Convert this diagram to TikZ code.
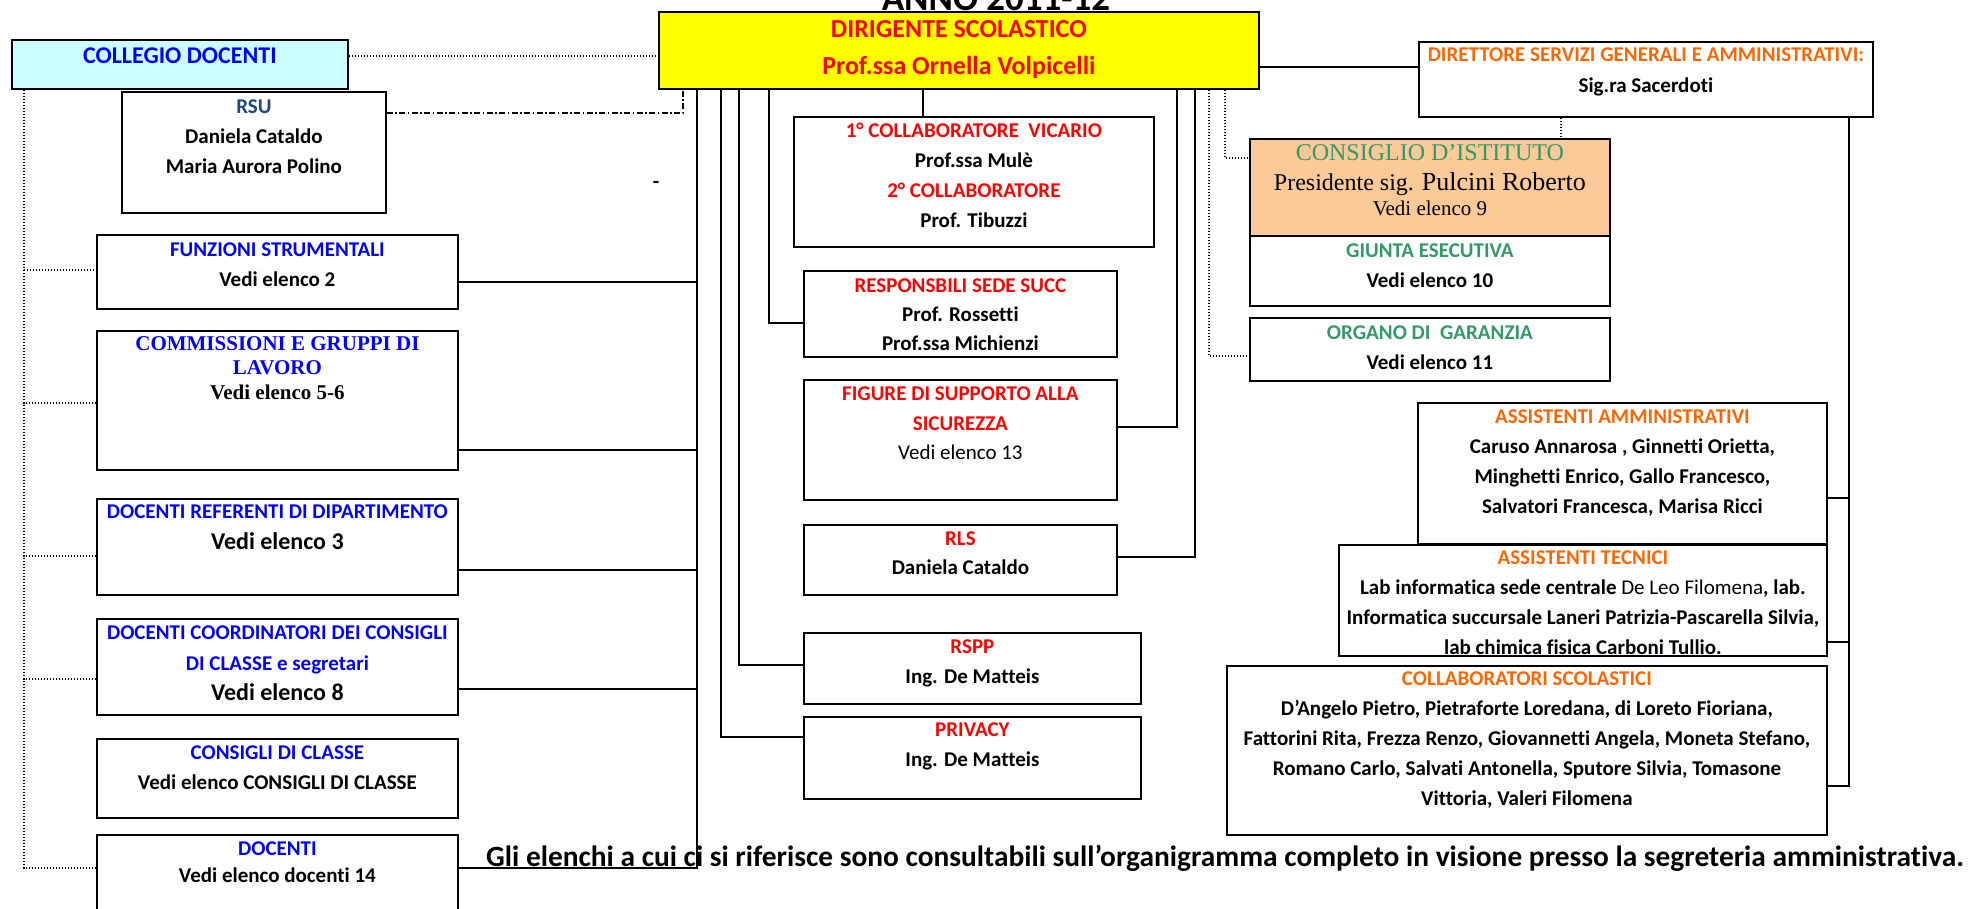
\documentclass[tikz,border=0pt]{standalone}
\usepackage{fontspec}
\setmainfont{Carlito}[Ligatures={NoCommon}]
\newfontfamily\tnr{Liberation Serif}
\definecolor{rosso}{RGB}{255,0,0}
\definecolor{blu}{RGB}{0,0,255}
\definecolor{arancio}{RGB}{255,102,0}
\definecolor{verde}{RGB}{51,153,102}
\definecolor{rsublu}{RGB}{31,73,125}
\definecolor{giallo}{RGB}{255,255,0}
\definecolor{ciano}{RGB}{204,255,255}
\definecolor{pesca}{RGB}{252,201,153}

\begin{document}
\begin{tikzpicture}[
  x=1pt, y=-1pt,
  box/.style={draw, line width=1.8pt, inner sep=0pt, anchor=north west},
  txt/.style={inner sep=0pt, align=center, anchor=north, font=\fontsize{21}{30}\selectfont\bfseries},
  conn/.style={line width=1.8pt},
  dotline/.style={line width=1.4pt, dash pattern=on 1.4pt off 1.6pt},
  dashdot/.style={line width=1.4pt, dash pattern=on 6pt off 2.5pt on 1.5pt off 2.5pt}
  ]
\useasboundingbox (0,0) rectangle (1973,908);

% boxes
\node[box, fill=ciano, minimum width=336pt, minimum height=49pt] (coll) at (11,39) {};
\node[box, fill=giallo, minimum width=600pt, minimum height=77pt] (ds) at (658,11) {};
\node[box, minimum width=454pt, minimum height=75pt] (dsga) at (1418,41) {};
\node[box, minimum width=264pt, minimum height=121pt] (rsu) at (121,91) {};
\node[box, minimum width=360pt, minimum height=130pt] (collab) at (793,116) {};
\node[box, fill=pesca, minimum width=360pt, minimum height=97pt] (cdi) at (1249,138) {};
\node[box, minimum width=360pt, minimum height=70pt] (giunta) at (1249,235) {};
\node[box, minimum width=360pt, minimum height=63pt] (og) at (1249,317) {};
\node[box, minimum width=361pt, minimum height=74pt] (fs) at (96,234) {};
\node[box, minimum width=361pt, minimum height=139pt] (comm) at (96,330) {};
\node[box, minimum width=361pt, minimum height=96pt] (dref) at (96,498) {};
\node[box, minimum width=361pt, minimum height=96pt] (dcoord) at (96,618) {};
\node[box, minimum width=361pt, minimum height=79pt] (cdc) at (96,738) {};
\node[box, minimum width=361pt, minimum height=80pt] (doc) at (96,834) {};
\node[box, minimum width=313pt, minimum height=86pt] (rss) at (803,270) {};
\node[box, minimum width=313pt, minimum height=120pt] (fig) at (803,379) {};
\node[box, minimum width=313pt, minimum height=70pt] (rls) at (803,524) {};
\node[box, minimum width=337pt, minimum height=71pt] (rspp) at (803,632) {};
\node[box, minimum width=337pt, minimum height=82pt] (priv) at (803,716) {};
\node[box, minimum width=409pt, minimum height=141pt] (aa) at (1417,402) {};
\node[box, minimum width=488pt, minimum height=111pt] (at) at (1338,544) {};
\node[box, minimum width=600pt, minimum height=169pt] (cs) at (1226,665) {};

% bus columns
\coordinate (xz) at (24,0);
\coordinate (xk) at (683,0);
\coordinate (xl) at (697,0);
\coordinate (xa) at (721,0);
\coordinate (xb) at (739,0);
\coordinate (xc) at (769,0);
\coordinate (xd) at (923,0);
\coordinate (xe) at (1177,0);
\coordinate (xf) at (1195,0);
\coordinate (xg) at (1209,0);
\coordinate (xh) at (1225,0);
\coordinate (xi) at (1561,0);
\coordinate (xr) at (1849,0);

% connectors
\draw[conn] ([yshift=-56pt]ds.north east) -- ([yshift=-26pt]dsga.north west);
\draw[conn] (ds.south -| xl) |- ([yshift=-48pt]fs.north east);
\draw[conn] (ds.south -| xl) |- ([yshift=-120pt]comm.north east);
\draw[conn] (ds.south -| xl) |- ([yshift=-72pt]dref.north east);
\draw[conn] (ds.south -| xl) |- ([yshift=-71pt]dcoord.north east);
\draw[conn] (ds.south -| xl) |- ([yshift=-34pt]doc.north east);
\draw[conn] (ds.south -| xa) |- ([yshift=-21pt]priv.north west);
\draw[conn] (ds.south -| xb) |- ([yshift=-33pt]rspp.north west);
\draw[conn] (ds.south -| xc) |- ([yshift=-53pt]rss.north west);
\draw[conn] (ds.south -| xd) -- (collab.north -| xd);
\draw[conn] (ds.south -| xe) |- ([yshift=-48pt]fig.north east);
\draw[conn] (ds.south -| xf) |- ([yshift=-33pt]rls.north east);
\draw[conn] (dsga.south -| xr) |- ([yshift=-96pt]aa.north east);
\draw[conn] (dsga.south -| xr) |- ([yshift=-98pt]at.north east);
\draw[conn] (dsga.south -| xr) |- ([yshift=-121pt]cs.north east);

\draw[dotline] ([yshift=-17pt]coll.north east) -- ([yshift=-45pt]ds.north west);
\draw[dotline] (coll.south -| xz) |- ([yshift=-36pt]fs.north west);
\draw[dotline] (coll.south -| xz) |- ([yshift=-73pt]comm.north west);
\draw[dotline] (coll.south -| xz) |- ([yshift=-58pt]dref.north west);
\draw[dotline] (coll.south -| xz) |- ([yshift=-61pt]dcoord.north west);
\draw[dotline] (coll.south -| xz) |- ([yshift=-34pt]doc.north west);
\draw[dotline] (ds.south -| xg) |- ([yshift=-39pt]og.north west);
\draw[dotline] (ds.south -| xh) |- ([yshift=-20pt]cdi.north west);
\draw[dotline] (dsga.south -| xi) -- (cdi.north -| xi);
\draw[dashdot] ([yshift=-22pt]rsu.north east) -| (ds.south -| xk);

% texts
\node[txt, text=blu, font=\fontsize{24}{30}\selectfont\bfseries] (coll-t) at ([yshift=-3.7pt]coll.north) {\strut COLLEGIO DOCENTI};
\node[txt, text=rosso, font=\fontsize{26}{37}\selectfont\bfseries] (ds-t) at (ds.north) {\strut DIRIGENTE SCOLASTICO\\Prof.ssa Ornella Volpicelli};
\node[txt, font=\fontsize{21}{31}\selectfont\bfseries] (dsga-t) at ([yshift=1pt]dsga.north) {\strut\textcolor{arancio}{DIRETTORE SERVIZI GENERALI E AMMINISTRATIVI:}\\Sig.ra Sacerdoti};
\node[txt] (rsu-t) at ([yshift=-0.8pt]rsu.north) {\strut\textcolor{rsublu}{RSU}\\Daniela Cataldo\\Maria Aurora Polino};
\node[txt] (collab-t) at (collab.north) {\strut\textcolor{rosso}{1° COLLABORATORE\ \ VICARIO}\\Prof.ssa Mulè\\\textcolor{rosso}{2° COLLABORATORE}\\Prof. Tibuzzi};
\node[anchor=base, inner sep=0pt, text=verde, font=\tnr\fontsize{24}{28}\selectfont] (cdi-t) at ([yshift=-22pt]cdi.north) {CONSIGLIO D’ISTITUTO};
\node[anchor=base, inner sep=0pt, font=\tnr\fontsize{24}{28}\selectfont] (cdi-p) at ([yshift=-52pt]cdi.north) {Presidente sig. {\fontsize{26}{28}\selectfont Pulcini Roberto}};
\node[anchor=base, inner sep=0pt, font=\tnr\fontsize{21}{28}\selectfont] (cdi-v) at ([yshift=-77pt]cdi.north) {Vedi elenco 9};
\node[txt] (giunta-t) at ([yshift=-0.8pt]giunta.north) {\strut\textcolor{verde}{GIUNTA ESECUTIVA}\\Vedi elenco 10};
\node[txt] (og-t) at ([yshift=-0.8pt]og.north) {\strut\textcolor{verde}{ORGANO DI\ \ GARANZIA}\\Vedi elenco 11};
\node[txt] (fs-t) at ([yshift=-0.8pt]fs.north) {\strut\textcolor{blu}{FUNZIONI STRUMENTALI}\\Vedi elenco 2};
\node[txt, font=\tnr\fontsize{21}{24.5}\selectfont\bfseries] (comm-t) at ([yshift=-2.8pt]comm.north) {\strut\textcolor{blu}{COMMISSIONI E GRUPPI DI}\\\textcolor{blu}{LAVORO}\\Vedi elenco 5-6};
\node[txt, font=\fontsize{21}{31}\selectfont\bfseries] (dref-t) at ([yshift=1pt]dref.north) {\strut\textcolor{blu}{DOCENTI REFERENTI DI DIPARTIMENTO}\\{\fontsize{24}{31}\selectfont Vedi elenco 3}};
\node[txt, font=\fontsize{21}{30.5}\selectfont\bfseries] (dcoord-t) at (dcoord.north) {\strut\textcolor{blu}{DOCENTI COORDINATORI DEI CONSIGLI}\\\textcolor{blu}{DI CLASSE e segretari}\\{\fontsize{24}{30.5}\selectfont Vedi elenco 8}};
\node[txt] (cdc-t) at (cdc.north) {\strut\textcolor{blu}{CONSIGLI DI CLASSE}\\Vedi elenco CONSIGLI DI CLASSE};
\node[txt, font=\fontsize{21}{27}\selectfont\bfseries] (doc-t) at ([yshift=-2pt]doc.north) {\strut\textcolor{blu}{DOCENTI}\\Vedi elenco docenti 14};
\node[txt, font=\fontsize{21}{29}\selectfont\bfseries] (rss-t) at ([yshift=-1.5pt]rss.north) {\strut\textcolor{rosso}{RESPONSBILI SEDE SUCC}\\Prof. Rossetti\\Prof.ssa Michienzi};
\node[txt, font=\fontsize{21}{29.5}\selectfont\bfseries] (fig-t) at ([yshift=-1pt]fig.north) {\strut\textcolor{rosso}{FIGURE DI SUPPORTO ALLA}\\\textcolor{rosso}{SICUREZZA}\\{\mdseries Vedi elenco 13}};
\node[txt, font=\fontsize{21}{29}\selectfont\bfseries] (rls-t) at ([yshift=-0.5pt]rls.north) {\strut\textcolor{rosso}{RLS}\\Daniela Cataldo};
\node[txt] (rspp-t) at (rspp.north) {\strut\textcolor{rosso}{RSPP}\\Ing. De Matteis};
\node[txt] (priv-t) at ([yshift=1pt]priv.north) {\strut\textcolor{rosso}{PRIVACY}\\Ing. De Matteis};
\node[txt] (aa-t) at (aa.north) {\strut\textcolor{arancio}{ASSISTENTI AMMINISTRATIVI}\\Caruso Annarosa , Ginnetti Orietta,\\Minghetti Enrico, Gallo Francesco,\\Salvatori Francesca, Marisa Ricci};
\node[txt] (at-t) at ([yshift=1pt]at.north) {\strut\textcolor{arancio}{ASSISTENTI TECNICI}\\Lab informatica sede centrale {\mdseries De Leo Filomena}, lab.\\Informatica succursale Laneri Patrizia-Pascarella Silvia,\\lab chimica fisica Carboni Tullio.};
\node[txt] (cs-t) at ([yshift=1pt]cs.north) {\strut\textcolor{arancio}{COLLABORATORI SCOLASTICI}\\D’Angelo Pietro, Pietraforte Loredana, di Loreto Fioriana,\\Fattorini Rita, Frezza Renzo, Giovannetti Angela, Moneta Stefano,\\Romano Carlo, Salvati Antonella, Sputore Silvia, Tomasone\\Vittoria, Valeri Filomena};

\node[anchor=base, inner sep=0pt, font=\fontsize{37}{40}\selectfont\bfseries] (anno) at (996,10) {ANNO 2011-12};
\node[inner sep=0pt, font=\fontsize{21}{25}\selectfont\bfseries] (trattino) at (656,185) {-};
\node[anchor=base west, inner sep=0pt, font=\fontsize{29.4}{34}\selectfont\bfseries] (nota) at (486,866) {Gli elenchi a cui ci si riferisce sono consultabili sull’organigramma completo in visione presso la segreteria amministrativa.};
\end{tikzpicture}
\end{document}
